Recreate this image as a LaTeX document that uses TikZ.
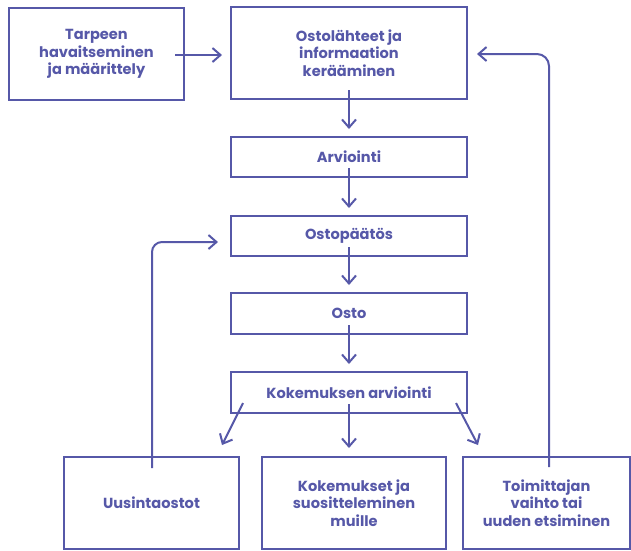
\documentclass[tikz,border=0pt]{standalone}
\usepackage{fontspec}
\setmainfont{Poppins}
\usetikzlibrary{arrows.meta,calc}
\definecolor{ink}{RGB}{86,88,168}
\begin{document}
\begin{tikzpicture}[x=1pt,y=-1pt,
  box/.style={draw=ink, line width=2pt, text=ink, align=center, inner sep=2pt,
    font=\bfseries\fontsize{14.6}{17.5}\selectfont},
  arr/.style={draw=ink, line width=2pt, -{Straight Barb[length=8pt,width=14pt,line width=2pt]}}]
\useasboundingbox (0,0) rectangle (631,550);
\node[box, minimum width=175pt, minimum height=92pt] (b1) at (96.5,54) {Tarpeen\\havaitseminen\\ja määrittely};
\node[box, minimum width=236pt, minimum height=92pt] (b2) at (349,53) {Ostolähteet ja\\informaation\\kerääminen};
\node[box, minimum width=236pt, minimum height=40pt] (b3) at (349,157) {Arviointi};
\node[box, minimum width=236pt, minimum height=40pt] (b4) at (349,236) {Ostopäätös};
\node[box, minimum width=236pt, minimum height=41pt] (b5) at (349,313.5) {Osto};
\node[box, minimum width=236pt, minimum height=41pt] (b6) at (349,392.5) {Kokemuksen arviointi};
\node[box, minimum width=175pt, minimum height=92pt] (bA) at (151.5,503) {Uusintaostot};
\node[box, minimum width=184pt, minimum height=92pt] (bB) at (354,503) {Kokemukset ja\\suositteleminen\\muille};
\node[box, minimum width=167pt, minimum height=92pt] (bC) at (546.5,503) {Toimittajan\\vaihto tai\\uuden etsiminen};
% horizontal first arrow
\draw[arr] ([xshift=-10pt,yshift=-1pt]b1.east) -- ([xshift=-8pt,yshift=-1pt]b1.east -| b2.west);
% vertical chain
\draw[arr] ([yshift=10pt]b2.south) -- ([yshift=7pt]b3.north);
\draw[arr] ([yshift=10pt]b3.south) -- ([yshift=7pt]b4.north);
\draw[arr] ([yshift=10pt]b4.south) -- ([yshift=7pt]b5.north);
\draw[arr] ([yshift=10pt]b5.south) -- ([yshift=7pt]b6.north);
% branches
\coordinate (l0) at (243,403);
\coordinate (l1) at (222,445);
\coordinate (m1) at (349,448);
\coordinate (r0) at (456,403);
\coordinate (r1) at (478,445);
\draw[arr] (l0) -- (l1);
\draw[arr] ([yshift=10pt]b6.south) -- (m1);
\draw[arr] (r0) -- (r1);
% loops
\draw[arr, rounded corners=10pt] ([xshift=0.5pt,yshift=-12pt]bA.north) |- ([xshift=-12pt,yshift=-6pt]b4.west);
\draw[arr, rounded corners=12pt] ([xshift=2.5pt,yshift=-11pt]bC.north) |- ([xshift=9pt,yshift=-1pt]b2.east);
\end{tikzpicture}
\end{document}
